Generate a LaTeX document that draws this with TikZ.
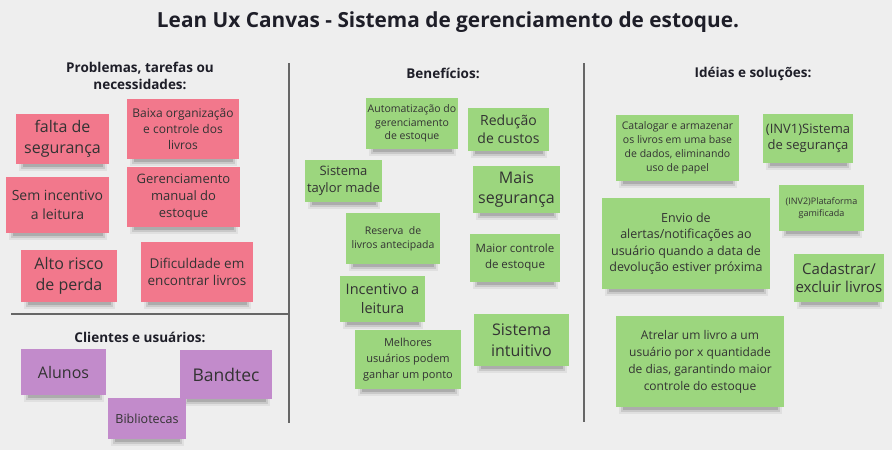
\documentclass[tikz,border=0pt]{standalone}
\usepackage{fontspec}
\setmainfont{Open Sans}
\usetikzlibrary{backgrounds}
\definecolor{bgc}{HTML}{EEEEEE}
\definecolor{pinkc}{HTML}{F2788C}
\definecolor{greenc}{HTML}{9CD67E}
\definecolor{purpc}{HTML}{C28BCB}
\definecolor{txt}{HTML}{333333}
\definecolor{headc}{HTML}{1E1E28}
\definecolor{linec}{HTML}{666666}
\tikzset{
  sticky/.style={draw=none, inner sep=0pt, align=center, text=txt},
  header/.style={align=center, text=headc, font=\bfseries\fontsize{13.5}{17}\selectfont},
  divider/.style={draw=linec, line width=1.2pt}
}
\newcommand{\sticky}[9]{%
  \node[sticky, fill=#2, minimum width=#5pt, minimum height=#6pt, font=\fontsize{#7}{#8}\selectfont] (#1) at (#3,#4) {#9};
  \begin{pgfonlayer}{background}
    \fill[black,opacity=0.06] ([xshift=3pt,yshift=1pt]#1.south west) rectangle ([xshift=-2pt,yshift=-7pt]#1.south east);
    \fill[black,opacity=0.10] ([xshift=5pt,yshift=1pt]#1.south west) rectangle ([xshift=-4pt,yshift=-5pt]#1.south east);
    \fill[black,opacity=0.14] ([xshift=7pt,yshift=1pt]#1.south west) rectangle ([xshift=-6pt,yshift=-3pt]#1.south east);
  \end{pgfonlayer}}
\begin{document}
\begin{tikzpicture}[x=1pt,y=-1pt]
\begin{pgfonlayer}{background}
  \fill[bgc] (0,0) rectangle (892,450);
\end{pgfonlayer}
\useasboundingbox (0,0) rectangle (892,450);

% title
\node[text=headc, font=\bfseries\fontsize{20.8}{25}\selectfont] (title) at (448,22) {Lean Ux Canvas - Sistema de gerenciamento de estoque.};

% dividers
\coordinate (v1t) at (289,63); \coordinate (v1b) at (289,423);
\coordinate (v2t) at (584,63); \coordinate (v2b) at (584,422);
\coordinate (h1l) at (11,314); \coordinate (h1r) at (288,314);
\draw[divider] (v1t) -- (v1b);
\draw[divider] (v2t) -- (v2b);
\draw[divider] (h1l) -- (h1r);

% headers
\node[header] (hprob) at (140,75.5) {Problemas, tarefas ou\\necessidades:};
\node[header] (hcli) at (140,337) {Clientes e usuários:};
\node[header] (hben) at (443,73) {Benefícios:};
\node[header] (hide) at (753,74) {Idéias e soluções:};

% problems
\sticky{p1}{pinkc}{62.5}{139}{93}{50}{16}{21}{falta de\\segurança}
\sticky{p2}{pinkc}{183}{129}{112}{60}{12}{16}{Baixa organização\\e controle dos\\livros}
\sticky{p3}{pinkc}{57.5}{205}{103}{56}{14}{19}{Sem incentivo\\a leitura}
\sticky{p4}{pinkc}{183.5}{197}{113}{60}{13}{17}{Gerenciamento\\manual do\\estoque}
\sticky{p5}{pinkc}{69}{276}{96}{52}{16}{21}{Alto risco\\de perda}
\sticky{p6}{pinkc}{197}{272}{112}{60}{13.5}{17.5}{Dificuldade em\\encontrar livros}

% clients
\sticky{u1}{purpc}{63.5}{372}{85}{46}{16}{20}{Alunos}
\sticky{u2}{purpc}{226}{374.5}{92}{49}{17.5}{22}{Bandtec}
\sticky{u3}{purpc}{147}{418.5}{78}{41}{12.5}{16}{Bibliotecas}

% benefits
\sticky{b1}{greenc}{412}{123.5}{92}{51}{10.5}{13.5}{Automatização do\\gerenciamento\\de estoque}
\sticky{b2}{greenc}{508.5}{129.5}{81}{43}{14}{18}{Redução\\de custos}
\sticky{b3}{greenc}{343.5}{181}{77}{42}{13}{17}{Sistema\\taylor made}
\sticky{b4}{greenc}{516.5}{189.5}{87}{47}{16}{20}{Mais\\segurança}
\sticky{b5}{greenc}{393}{238.5}{94}{51}{10.5}{14}{Reserva\ \ de\\livros antecipada}
\sticky{b6}{greenc}{515}{258}{90}{48}{11.5}{16}{Maior controle\\de estoque}
\sticky{b7}{greenc}{382.5}{299}{85}{46}{14.5}{19}{Incentivo a\\leitura}
\sticky{b8}{greenc}{408}{359.5}{106}{59}{11}{16}{Melhores\\usuários podem\\ganhar um ponto}
\sticky{b9}{greenc}{521.5}{340}{95}{52}{16}{21}{Sistema\\intuitivo}

% ideas
\sticky{i1}{greenc}{677.5}{148}{123}{66}{10.5}{14}{Catalogar e armazenar\\os livros em uma base\\de dados, eliminando\\uso de papel}
\sticky{i2}{greenc}{808}{138.5}{90}{49}{13}{16}{(INV1)Sistema\\de segurança}
\sticky{i3}{greenc}{821.5}{208}{85}{46}{9}{12}{(INV2)Plataforma\\gamificada}
\sticky{i4}{greenc}{686}{243.5}{168}{91}{12.5}{16.5}{Envio de\\alertas/notificações ao\\usuário quando a data de\\devolução estiver próxima}
\sticky{i5}{greenc}{839}{278}{90}{48}{15}{18}{Cadastrar/\\excluir livros}
\sticky{i6}{greenc}{700}{361.5}{168}{91}{12}{17}{Atrelar um livro a um\\usuário por x quantidade\\de dias, garantindo maior\\controle do estoque}
\end{tikzpicture}
\end{document}
